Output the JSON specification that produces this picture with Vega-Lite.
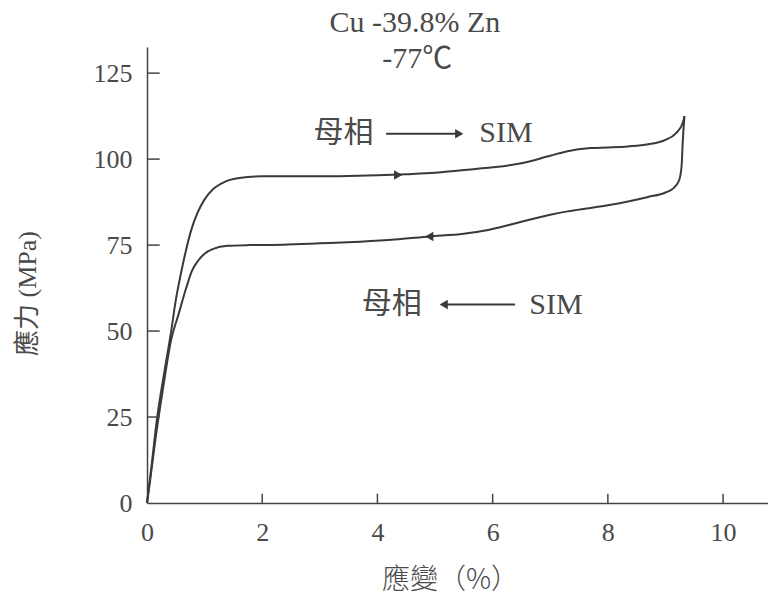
{
  "$schema": "https://vega.github.io/schema/vega-lite/v6.json",
  "autosize": {"type": "none"},
  "padding": {"left": 147, "top": 47, "right": 0, "bottom": 98},
  "width": 621,
  "height": 456,
  "background": "white",
  "config": {"view": {"stroke": null}},
  "datasets": {
    "curve": [
      {"seg": "loading", "i": 1, "strain": 0, "stress": 0},
      {"seg": "loading", "i": 2, "strain": 0.08, "stress": 11},
      {"seg": "loading", "i": 3, "strain": 0.17, "stress": 24},
      {"seg": "loading", "i": 4, "strain": 0.3, "stress": 38},
      {"seg": "loading", "i": 5, "strain": 0.42, "stress": 50},
      {"seg": "loading", "i": 6, "strain": 0.5, "stress": 59},
      {"seg": "loading", "i": 7, "strain": 0.58, "stress": 66},
      {"seg": "loading", "i": 8, "strain": 0.67, "stress": 73},
      {"seg": "loading", "i": 9, "strain": 0.77, "stress": 79.5},
      {"seg": "loading", "i": 10, "strain": 0.88, "stress": 84.5},
      {"seg": "loading", "i": 11, "strain": 1.0, "stress": 88.3},
      {"seg": "loading", "i": 12, "strain": 1.15, "stress": 91.3},
      {"seg": "loading", "i": 13, "strain": 1.35, "stress": 93.4},
      {"seg": "loading", "i": 14, "strain": 1.6, "stress": 94.5},
      {"seg": "loading", "i": 15, "strain": 2.0, "stress": 95},
      {"seg": "loading", "i": 16, "strain": 2.5, "stress": 95},
      {"seg": "loading", "i": 17, "strain": 3.0, "stress": 95},
      {"seg": "loading", "i": 18, "strain": 3.5, "stress": 95.1},
      {"seg": "loading", "i": 19, "strain": 4.0, "stress": 95.3},
      {"seg": "loading", "i": 20, "strain": 4.5, "stress": 95.6},
      {"seg": "loading", "i": 21, "strain": 5.0, "stress": 96},
      {"seg": "loading", "i": 22, "strain": 5.5, "stress": 96.8},
      {"seg": "loading", "i": 23, "strain": 6.0, "stress": 97.6},
      {"seg": "loading", "i": 24, "strain": 6.5, "stress": 98.8},
      {"seg": "loading", "i": 25, "strain": 7.0, "stress": 101},
      {"seg": "loading", "i": 26, "strain": 7.3, "stress": 102.3},
      {"seg": "loading", "i": 27, "strain": 7.7, "stress": 103.2},
      {"seg": "loading", "i": 28, "strain": 8.0, "stress": 103.4},
      {"seg": "loading", "i": 29, "strain": 8.35, "stress": 103.7},
      {"seg": "loading", "i": 30, "strain": 8.7, "stress": 104.3},
      {"seg": "loading", "i": 31, "strain": 9.0, "stress": 105.6},
      {"seg": "loading", "i": 32, "strain": 9.18, "stress": 107.5},
      {"seg": "loading", "i": 33, "strain": 9.3, "stress": 110.5},
      {"seg": "loading", "i": 34, "strain": 9.33, "stress": 112.5},
      {"seg": "unloading", "i": 1, "strain": 9.33, "stress": 112.5},
      {"seg": "unloading", "i": 2, "strain": 9.3, "stress": 105},
      {"seg": "unloading", "i": 3, "strain": 9.28, "stress": 98},
      {"seg": "unloading", "i": 4, "strain": 9.24, "stress": 94},
      {"seg": "unloading", "i": 5, "strain": 9.15, "stress": 91.7},
      {"seg": "unloading", "i": 6, "strain": 9.0, "stress": 90.3},
      {"seg": "unloading", "i": 7, "strain": 8.7, "stress": 89},
      {"seg": "unloading", "i": 8, "strain": 8.35, "stress": 87.7},
      {"seg": "unloading", "i": 9, "strain": 8.0, "stress": 86.6},
      {"seg": "unloading", "i": 10, "strain": 7.7, "stress": 85.8},
      {"seg": "unloading", "i": 11, "strain": 7.3, "stress": 84.8},
      {"seg": "unloading", "i": 12, "strain": 7.0, "stress": 83.8},
      {"seg": "unloading", "i": 13, "strain": 6.6, "stress": 82.2},
      {"seg": "unloading", "i": 14, "strain": 6.3, "stress": 80.9},
      {"seg": "unloading", "i": 15, "strain": 5.9, "stress": 79.3},
      {"seg": "unloading", "i": 16, "strain": 5.5, "stress": 78.3},
      {"seg": "unloading", "i": 17, "strain": 4.9, "stress": 77.5},
      {"seg": "unloading", "i": 18, "strain": 4.3, "stress": 76.6},
      {"seg": "unloading", "i": 19, "strain": 3.7, "stress": 76.0},
      {"seg": "unloading", "i": 20, "strain": 3.0, "stress": 75.5},
      {"seg": "unloading", "i": 21, "strain": 2.36, "stress": 75.1},
      {"seg": "unloading", "i": 22, "strain": 1.8, "stress": 75.0},
      {"seg": "unloading", "i": 23, "strain": 1.4, "stress": 74.8},
      {"seg": "unloading", "i": 24, "strain": 1.15, "stress": 73.9},
      {"seg": "unloading", "i": 25, "strain": 1.0, "stress": 72.5},
      {"seg": "unloading", "i": 26, "strain": 0.88, "stress": 70.3},
      {"seg": "unloading", "i": 27, "strain": 0.78, "stress": 67.5},
      {"seg": "unloading", "i": 28, "strain": 0.68, "stress": 62.5},
      {"seg": "unloading", "i": 29, "strain": 0.55, "stress": 55},
      {"seg": "unloading", "i": 30, "strain": 0.42, "stress": 47.5},
      {"seg": "unloading", "i": 31, "strain": 0.28, "stress": 33.5},
      {"seg": "unloading", "i": 32, "strain": 0.15, "stress": 19},
      {"seg": "unloading", "i": 33, "strain": 0.05, "stress": 6},
      {"seg": "unloading", "i": 34, "strain": 0, "stress": 0}
    ],
    "heads": [
      {"strain": 4.36, "stress": 95.4, "dir": "right"},
      {"strain": 4.9, "stress": 77.5, "dir": "left"},
      {"strain": 5.42, "stress": 107.4, "dir": "right"},
      {"strain": 5.15, "stress": 57.7, "dir": "left"}
    ],
    "shafts": [
      {"x1": 4.15, "x2": 5.4, "y": 107.4},
      {"x1": 5.2, "x2": 6.39, "y": 57.7}
    ],
    "xticks": [
      {"strain": 2, "y0": 0, "y1": 2.7},
      {"strain": 4, "y0": 0, "y1": 2.7},
      {"strain": 6, "y0": 0, "y1": 2.7},
      {"strain": 8, "y0": 0, "y1": 2.7},
      {"strain": 10, "y0": 0, "y1": 2.7}
    ],
    "yticks": [
      {"stress": 25, "x0": 0, "x1": 0.22},
      {"stress": 50, "x0": 0, "x1": 0.22},
      {"stress": 75, "x0": 0, "x1": 0.22},
      {"stress": 100, "x0": 0, "x1": 0.22},
      {"stress": 125, "x0": 0, "x1": 0.22}
    ],
    "labels": [
      {"strain": 4.65, "stress": 139.6, "text": "Cu -39.8% Zn"},
      {"strain": 4.69, "stress": 129.2, "text": "-77℃"},
      {"strain": 3.41, "stress": 107.7, "text": "母相"},
      {"strain": 6.23, "stress": 107.7, "text": "SIM"},
      {"strain": 4.25, "stress": 58.0, "text": "母相"},
      {"strain": 7.1, "stress": 57.7, "text": "SIM"}
    ]
  },
  "layer": [
    {
      "data": {"name": "curve"},
      "mark": {"type": "line", "interpolate": "monotone", "color": "#3a3a3a", "strokeWidth": 2},
      "encoding": {
        "x": {
          "field": "strain", "type": "quantitative",
          "scale": {"domain": [0, 10.78], "nice": false, "zero": false},
          "axis": {
            "values": [0, 2, 4, 6, 8, 10],
            "format": "d",
            "grid": false,
            "ticks": false,
            "labelFlush": false,
            "domainColor": "#444", "domainWidth": 1.5,
            "labelPadding": 16, "labelFont": "Liberation Serif", "labelFontSize": 26, "labelColor": "#4a4a4a",
            "title": "應變（%）",
            "titleFont": "Noto Sans CJK TC", "titleFontSize": 28, "titleFontWeight": 300, "titleColor": "#4a4a4a",
            "titleX": 303, "titleY": 77, "titleBaseline": "middle", "titleAlign": "center"
          }
        },
        "y": {
          "field": "stress", "type": "quantitative",
          "scale": {"domain": [0, 132.6], "nice": false, "zero": false},
          "axis": {
            "values": [0, 25, 50, 75, 100, 125],
            "format": "d",
            "grid": false,
            "ticks": false,
            "labelFlush": false,
            "domainColor": "#444", "domainWidth": 1.5,
            "labelPadding": 15, "labelFont": "Liberation Serif", "labelFontSize": 26, "labelColor": "#4a4a4a",
            "title": "應力 (MPa)",
            "titleFont": "Liberation Serif, Noto Sans CJK TC", "titleFontSize": 26, "titleFontWeight": "normal", "titleColor": "#4a4a4a",
            "titleX": -120, "titleY": 246, "titleAngle": 270, "titleBaseline": "middle", "titleAlign": "center"
          }
        },
        "detail": {"field": "seg"},
        "order": {"field": "i", "type": "quantitative"}
      }
    },
    {
      "data": {"name": "xticks"},
      "mark": {"type": "rule", "color": "#444", "strokeWidth": 1.5},
      "encoding": {
        "x": {"field": "strain", "type": "quantitative"},
        "y": {"field": "y0", "type": "quantitative"},
        "y2": {"field": "y1"}
      }
    },
    {
      "data": {"name": "yticks"},
      "mark": {"type": "rule", "color": "#444", "strokeWidth": 1.5},
      "encoding": {
        "y": {"field": "stress", "type": "quantitative"},
        "x": {"field": "x0", "type": "quantitative"},
        "x2": {"field": "x1"}
      }
    },
    {
      "data": {"name": "shafts"},
      "mark": {"type": "rule", "color": "#3a3a3a", "strokeWidth": 2},
      "encoding": {
        "x": {"field": "x1", "type": "quantitative"},
        "x2": {"field": "x2"},
        "y": {"field": "y", "type": "quantitative"}
      }
    },
    {
      "data": {"name": "heads"},
      "mark": {"type": "point", "filled": true, "opacity": 1, "color": "#3a3a3a", "size": 90},
      "encoding": {
        "x": {"field": "strain", "type": "quantitative"},
        "y": {"field": "stress", "type": "quantitative"},
        "shape": {
          "field": "dir", "type": "nominal",
          "scale": {"domain": ["right", "left"], "range": ["triangle-right", "triangle-left"]},
          "legend": null
        }
      }
    },
    {
      "data": {"name": "labels"},
      "mark": {"type": "text", "font": "Liberation Serif, Noto Sans CJK TC", "fontSize": 30, "color": "#4a4a4a", "baseline": "middle", "align": "center"},
      "encoding": {
        "x": {"field": "strain", "type": "quantitative"},
        "y": {"field": "stress", "type": "quantitative"},
        "text": {"field": "text"}
      }
    }
  ]
}
